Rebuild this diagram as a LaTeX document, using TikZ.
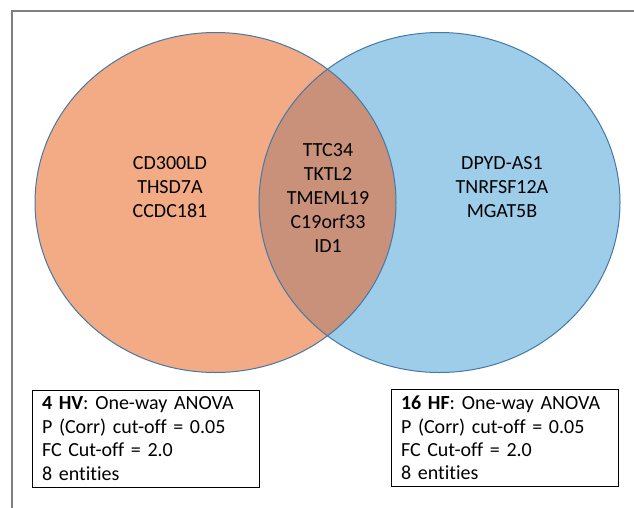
\documentclass[tikz,border=0pt]{standalone}
\usepackage{fontspec}
\setmainfont{Carlito}[Ligatures={NoCommon}]
\definecolor{vorange}{HTML}{F3AB85}
\definecolor{vblue}{HTML}{9DCDE9}
\definecolor{vboth}{HTML}{C9917A}
\definecolor{vline}{HTML}{4478A8}
\definecolor{framegray}{HTML}{808080}
\begin{document}
\begin{tikzpicture}[x=1pt,y=-1pt,
  gene/.style={align=center,inner sep=0pt,font=\fontsize{20}{24}\selectfont},
  infobox/.style={draw=black,line width=1pt,align=left,text width=207pt,
    inner xsep=10pt,inner ysep=2pt,minimum width=227pt,minimum height=97pt,
    font=\fontsize{20}{23.4}\selectfont}]
\useasboundingbox (0,0) rectangle (634,507);
% frame (top and left edges only visible)
\draw[framegray,line width=1.2pt] (12,520) -- (12,11) -- (640,11);
% circles
\fill[vorange] (215.5,202.5) ellipse [x radius=180.5, y radius=170];
\fill[vblue] (439.5,202.5) ellipse [x radius=180.5, y radius=170];
\begin{scope}
  \clip (215.5,202.5) ellipse [x radius=180.5, y radius=170];
  \fill[vboth] (439.5,202.5) ellipse [x radius=180.5, y radius=170];
\end{scope}
\draw[vline,line width=1pt] (215.5,202.5) ellipse [x radius=180.5, y radius=170];
\draw[vline,line width=1pt] (439.5,202.5) ellipse [x radius=180.5, y radius=170];
% gene lists
\node[gene] (left) at (170,187) {CD300LD\\THSD7A\\CCDC181};
\node[gene] (mid) at (328,198) {TTC34\\TKTL2\\TMEML19\\C19orf33\\ID1};
\node[gene] (right) at (502,187) {DPYD-AS1\\TNRFSF12A\\MGAT5B};
% info boxes
\node[infobox] (lbox) at (145.5,438.5) {\textbf{4 HV}: One-way ANOVA\\P (Corr) cut-off = 0.05\\FC Cut-off = 2.0\\8 entities};
\node[infobox] (rbox) at (504.5,438) {\textbf{16 HF}: One-way ANOVA\\P (Corr) cut-off = 0.05\\FC Cut-off = 2.0\\8 entities};
\end{tikzpicture}
\end{document}
